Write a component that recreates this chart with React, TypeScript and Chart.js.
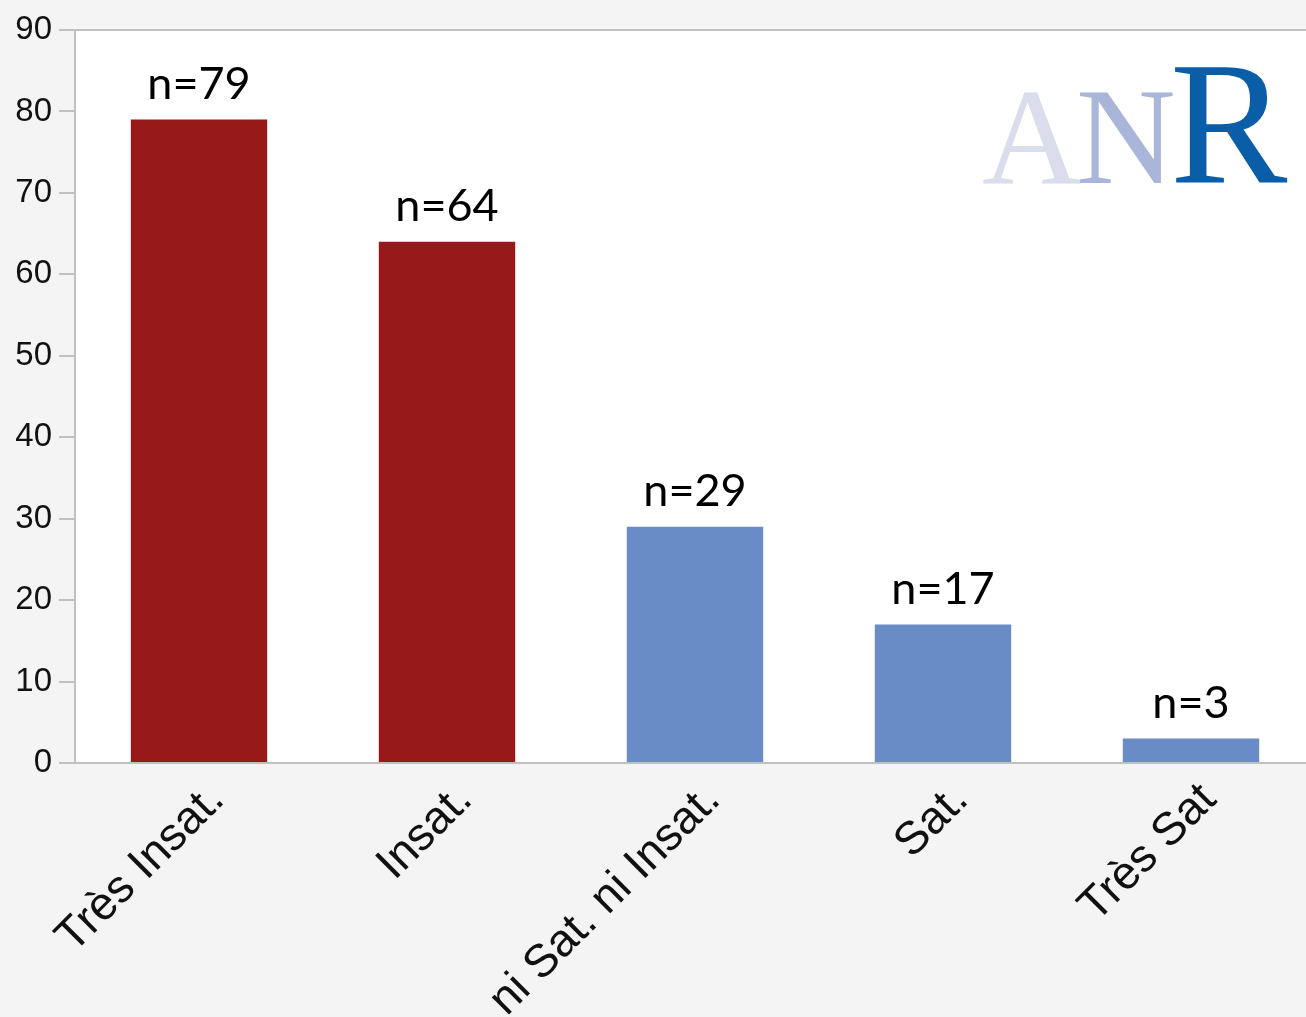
import React, { useEffect, useRef } from "react";
import { Chart, registerables } from "chart.js";

Chart.register(...registerables);

const categories = ["Très Insat.", "Insat.", "ni Sat. ni Insat.", "Sat.", "Très Sat"];
const counts = [79, 64, 29, 17, 3];
const barLabels = ["n=79", "n=64", "n=29", "n=17", "n=3"];
const barColors = ["#98191a", "#98191a", "#6a8cc6", "#6a8cc6", "#6a8cc6"];
const yMin = 0;
const yMax = 90;
const yStep = 10;

const decorPlugin = {
  id: "decor",
  beforeDraw(chart: any) {
    const { ctx, chartArea, width, height } = chart;
    ctx.save();
    ctx.fillStyle = "#f4f4f4";
    ctx.fillRect(0, 0, width, height);
    ctx.fillStyle = "#ffffff";
    ctx.fillRect(chartArea.left, chartArea.top, chartArea.right - chartArea.left, chartArea.bottom - chartArea.top);
    // ANR logo
    ctx.textBaseline = "alphabetic";
    ctx.textAlign = "left";
    ctx.font = "138px 'Liberation Serif'";
    ctx.fillStyle = "#d9ddec";
    ctx.fillText("A", 982, 183);
    ctx.fillStyle = "#aab6d9";
    ctx.fillText("N", 1076, 183);
    ctx.font = "176px 'Liberation Serif'";
    ctx.fillStyle = "#0a5ea8";
    ctx.fillText("R", 1170, 183);
    ctx.restore();
  },
  afterDraw(chart: any) {
    const { ctx, chartArea } = chart;
    ctx.save();
    ctx.strokeStyle = "#c0c0c0";
    ctx.lineWidth = 2;
    ctx.beginPath();
    ctx.moveTo(chartArea.left, chartArea.top);
    ctx.lineTo(chartArea.right, chartArea.top);
    ctx.stroke();
    ctx.restore();
  },
  afterDatasetsDraw(chart: any) {
    const { ctx } = chart;
    const meta = chart.getDatasetMeta(0);
    ctx.save();
    ctx.font = "45px Lato";
    ctx.fillStyle = "#000";
    ctx.textAlign = "center";
    ctx.textBaseline = "alphabetic";
    meta.data.forEach((el: any, i: number) => {
      ctx.fillText(barLabels[i], el.x, el.y - 21);
    });
    ctx.restore();
  },
};

export default function App() {
  const ref = useRef<HTMLCanvasElement>(null);
  useEffect(() => {
    if (!ref.current) return;
    const chart = new Chart(ref.current, {
      type: "bar",
      data: {
        labels: categories,
        datasets: [
          {
            data: counts,
            backgroundColor: barColors,
            borderWidth: 0,
            categoryPercentage: 1,
            barPercentage: 0.55,
          },
        ],
      },
      options: {
        responsive: false,
        animation: false,
        layout: { padding: { top: 30, right: 1, left: 0, bottom: 0 } },
        plugins: { legend: { display: false }, tooltip: { enabled: false } },
        scales: {
          x: {
            grid: { display: false },
            border: { color: "#c0c0c0", width: 2 },
            ticks: {
              maxRotation: 45,
              minRotation: 45,
              font: { size: 46, family: "'Liberation Sans'" },
              color: "#111",
              labelOffset: 18,
              padding: 2,
              autoSkip: false,
            },
            afterFit(scale: any) {
              scale.height = 254;
            },
          },
          y: {
            min: yMin,
            max: yMax,
            ticks: {
              stepSize: yStep,
              font: { size: 33, family: "'Liberation Sans'" },
              color: "#111",
              padding: 7,
            },
            grid: { drawOnChartArea: false, tickLength: 16, color: "#c0c0c0", lineWidth: 2 },
            border: { color: "#c0c0c0", width: 2 },
            afterFit(scale: any) {
              scale.width = 75;
            },
          },
        },
      },
      plugins: [decorPlugin],
    });
    return () => chart.destroy();
  }, []);
  return (
    <div style={{ position: "fixed", left: 0, top: 0, width: 1306, height: 1017, overflow: "hidden", background: "#f4f4f4" }}>
      <canvas ref={ref} width={1316} height={1017} />
    </div>
  );
}
